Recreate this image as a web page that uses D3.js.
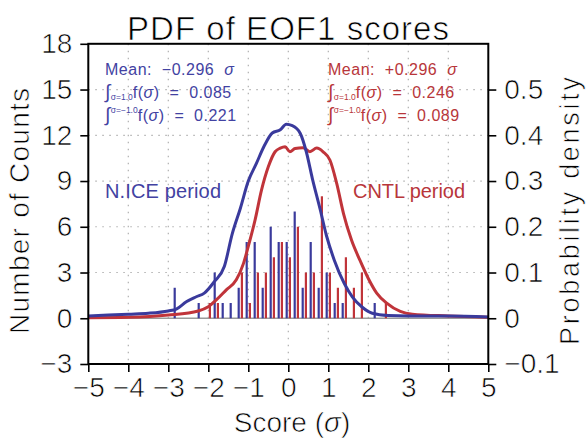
<!DOCTYPE html>
<html><head><meta charset="utf-8">
<script src="https://cdn.jsdelivr.net/npm/d3@7"></script>
<style>
body{margin:0;background:#fff;}
text{font-family:"Liberation Sans",Arial,sans-serif;}
.thin{stroke:#fff;stroke-width:0.7px;paint-order:fill;}
</style>
</head><body>
<svg id="c" width="587" height="439"></svg>
<script>
// ---------- data ----------
const xTicks = [-5,-4,-3,-2,-1,0,1,2,3,4,5];
const countTicks = [-3,0,3,6,9,12,15,18];
const densTicks = [-0.1,0,0.1,0.2,0.3,0.4,0.5];

// histogram (bin centre, counts)
const niceBins   = [-2.8,-2.2,-1.8,-1.6,-1.4,-1.2,-1.0,-0.8,-0.6,-0.4,-0.2,0.0,0.2,0.4,0.6,0.8,1.0,1.2,1.4,2.2];
const niceCounts = [2,1,3,1,1,2,5,5,2,6,5,5,7,2,5,2,3,1,1,1];
const cntlBins   = [-2.0,-1.8,-1.2,-1.0,-0.8,-0.6,-0.4,-0.2,0.0,0.2,0.4,0.6,0.8,1.0,1.2,1.4,1.6,1.8,2.4];
const cntlCounts = [1,1,3,1,3,3,4,5,4,6,3,3,8,3,2,4,2,3,1];

// PDF curves (score, density)
const nicePdfX = [-5,-4,-3.5,-3.0,-2.8,-2.55,-2.3,-2.1,-1.85,-1.6,-1.4,-1.2,-1.0,-0.8,-0.6,-0.4,-0.2,-0.05,0.1,0.3,0.45,0.6,0.8,0.95,1.15,1.4,1.6,1.85,2.1,2.5,3.0,4.0,5.0];
const nicePdfY = [0.005,0.009,0.011,0.016,0.02,0.036,0.047,0.055,0.08,0.113,0.185,0.24,0.30,0.338,0.377,0.405,0.412,0.424,0.421,0.404,0.364,0.306,0.237,0.182,0.127,0.076,0.047,0.024,0.011,0.006,0.005,0.005,0.003];
const cntlPdfX = [-5,-4,-3,-2.25,-2.0,-1.8,-1.55,-1.3,-1.12,-1.0,-0.83,-0.67,-0.5,-0.33,-0.2,-0.08,0.04,0.17,0.37,0.54,0.71,0.87,1.04,1.21,1.38,1.58,1.79,2.0,2.21,2.46,2.8,3.1,4.0,5.0];
const cntlPdfY = [0.001,0.002,0.007,0.016,0.025,0.04,0.062,0.084,0.12,0.157,0.215,0.28,0.331,0.364,0.372,0.375,0.364,0.371,0.373,0.364,0.372,0.364,0.346,0.295,0.229,0.171,0.127,0.087,0.055,0.033,0.015,0.009,0.005,0.002];

const niceStats = {mean:"\u22120.296", above:"0.085", below:"0.221"};
const cntlStats = {mean:"+0.296", above:"0.246", below:"0.089"};

// ---------- layout ----------
const L=88.3, R=488.3, T=43.8, B=364;
const BLUE="#3a3a9c", RED="#c0343a";
const TBLUE="#4242a2", TRED="#b8363a";
const SP="\u00a0";

const svg=d3.select("#c");
const x=d3.scaleLinear().domain([-5,5]).range([L,R]);
const yc=d3.scaleLinear().domain([-3,18]).range([B,T]);
const yd=d3.scaleLinear().domain([-0.1,0.6]).range([B,T]);

// grid
const g=svg.append("g");
g.selectAll(".vg").data(xTicks.slice(1,-1)).join("line")
 .attr("x1",d=>x(d)).attr("x2",d=>x(d)).attr("y1",T).attr("y2",B)
 .attr("stroke","#b0b0b0").attr("stroke-width",1.2).attr("stroke-dasharray","1.5,5.5");
g.selectAll(".hg").data(countTicks.filter(d=>d>0&&d<18)).join("line")
 .attr("x1",L).attr("x2",R).attr("y1",d=>yc(d)).attr("y2",d=>yc(d))
 .attr("stroke","#b0b0b0").attr("stroke-width",1.2).attr("stroke-dasharray","1.5,5.5");
// zero line
svg.append("line").attr("x1",L).attr("x2",R).attr("y1",yc(0)).attr("y2",yc(0))
 .attr("stroke","#9a9a9a").attr("stroke-width",1.5);

// bars
function bars(bins,counts,col,off){
  svg.append("g").selectAll("line").data(bins.map((b,i)=>[b,counts[i]])).join("line")
   .attr("x1",d=>x(d[0])+off).attr("x2",d=>x(d[0])+off)
   .attr("y1",yc(0)).attr("y2",d=>yc(d[1]))
   .attr("stroke",col).attr("stroke-width",2.2);
}
bars(niceBins,niceCounts,BLUE,-1.6);
bars(cntlBins,cntlCounts,RED,1.6);

// curves
const line=d3.line().x(d=>x(d[0])).y(d=>yd(d[1])).curve(d3.curveMonotoneX);
svg.append("path").attr("d",line(cntlPdfX.map((v,i)=>[v,cntlPdfY[i]])))
 .attr("fill","none").attr("stroke",RED).attr("stroke-width",3);
svg.append("path").attr("d",line(nicePdfX.map((v,i)=>[v,nicePdfY[i]])))
 .attr("fill","none").attr("stroke",BLUE).attr("stroke-width",3);

// axes
const fs=28;
const ax=svg.append("g").attr("transform",`translate(0,${B})`)
 .call(d3.axisBottom(x).tickValues(xTicks).tickSize(8).tickPadding(4)
   .tickFormat(d=>d<0?"\u2212"+Math.abs(d):String(d)));
const al=svg.append("g").attr("transform",`translate(${L},0)`)
 .call(d3.axisLeft(yc).tickValues(countTicks).tickSize(8).tickPadding(8)
   .tickFormat(d=>d<0?"\u2212"+Math.abs(d):String(d)));
const ar=svg.append("g").attr("transform",`translate(${R},0)`)
 .call(d3.axisRight(yd).tickValues(densTicks).tickSize(8).tickPadding(8)
   .tickFormat(d=>{const a=Math.abs(d)<1e-9?"0":d3.format(".1f")(Math.abs(d));return d<-1e-9?"\u2212"+a:a;}));
[ax,al,ar].forEach(a=>{
  a.select(".domain").remove();
  a.selectAll("line").attr("stroke","#000").attr("stroke-width",1.6);
  a.selectAll("text").attr("font-size",fs).attr("fill","#000").attr("class","thin")
   .attr("font-family","Liberation Sans, Arial, sans-serif");
});
ax.selectAll("text").attr("dy","0.75em");

// frame
svg.append("rect").attr("x",L).attr("y",T).attr("width",R-L).attr("height",B-T)
 .attr("fill","none").attr("stroke","#000").attr("stroke-width",2);

// titles
svg.append("text").attr("class","thin").attr("x",288).attr("y",40).attr("text-anchor","middle")
 .attr("font-size",33).attr("fill","#000").attr("textLength",322).attr("lengthAdjust","spacing")
 .text("PDF of EOF1 scores");
const xl=svg.append("text").attr("class","thin").attr("x",292).attr("y",432).attr("text-anchor","middle")
 .attr("font-size",28).attr("fill","#000");
xl.append("tspan").text("Score (");
xl.append("tspan").attr("font-style","italic").text("\u03c3");
xl.append("tspan").text(")");
svg.append("text").attr("class","thin").attr("transform","translate(29,211) rotate(-90)").attr("text-anchor","middle")
 .attr("font-size",28).attr("fill","#000").attr("textLength",246).attr("lengthAdjust","spacing")
 .text("Number of Counts");
svg.append("text").attr("class","thin").attr("transform","translate(579,211) rotate(-90)").attr("text-anchor","middle")
 .attr("font-size",27).attr("fill","#000").attr("textLength",268).attr("lengthAdjust","spacing")
 .text("Probability density");

// annotations
function stats(x0,col,s){
  const t1=svg.append("text").attr("x",x0).attr("y",75).attr("font-size",16)
    .attr("letter-spacing",0.5).attr("fill",col);
  t1.append("tspan").text("Mean:"+SP+SP+s.mean+SP+SP);
  t1.append("tspan").attr("font-style","italic").text("\u03c3");
  const t2=svg.append("text").attr("x",x0).attr("y",98).attr("font-size",16)
    .attr("letter-spacing",0.5).attr("fill",col);
  t2.append("tspan").attr("font-size",19).attr("font-style","italic").text("\u222b");
  t2.append("tspan").attr("font-size",8.5).attr("letter-spacing",0).attr("dy",2).text("\u03c3=1.0");
  t2.append("tspan").attr("dy",-2).text("f(");
  t2.append("tspan").attr("font-style","italic").text("\u03c3");
  t2.append("tspan").text(")"+SP+SP+"="+SP+SP+s.above);
  const t3=svg.append("text").attr("x",x0).attr("y",121).attr("font-size",16)
    .attr("letter-spacing",0.5).attr("fill",col);
  t3.append("tspan").attr("font-size",19).attr("font-style","italic").text("\u222b");
  t3.append("tspan").attr("font-size",8.5).attr("letter-spacing",0).attr("dy",-8).text("\u03c3=\u22121.0");
  t3.append("tspan").attr("dy",8).text("f(");
  t3.append("tspan").attr("font-style","italic").text("\u03c3");
  t3.append("tspan").text(")"+SP+SP+"="+SP+SP+s.below);
}
stats(105,TBLUE,niceStats);
stats(328,TRED,cntlStats);

svg.append("text").attr("x",105).attr("y",198).attr("font-size",20).attr("fill",TBLUE)
 .attr("textLength",116).attr("lengthAdjust","spacing").text("N.ICE period");
svg.append("text").attr("x",353).attr("y",198).attr("font-size",20).attr("fill",TRED)
 .attr("textLength",112).attr("lengthAdjust","spacing").text("CNTL period");
</script>
</body></html>
